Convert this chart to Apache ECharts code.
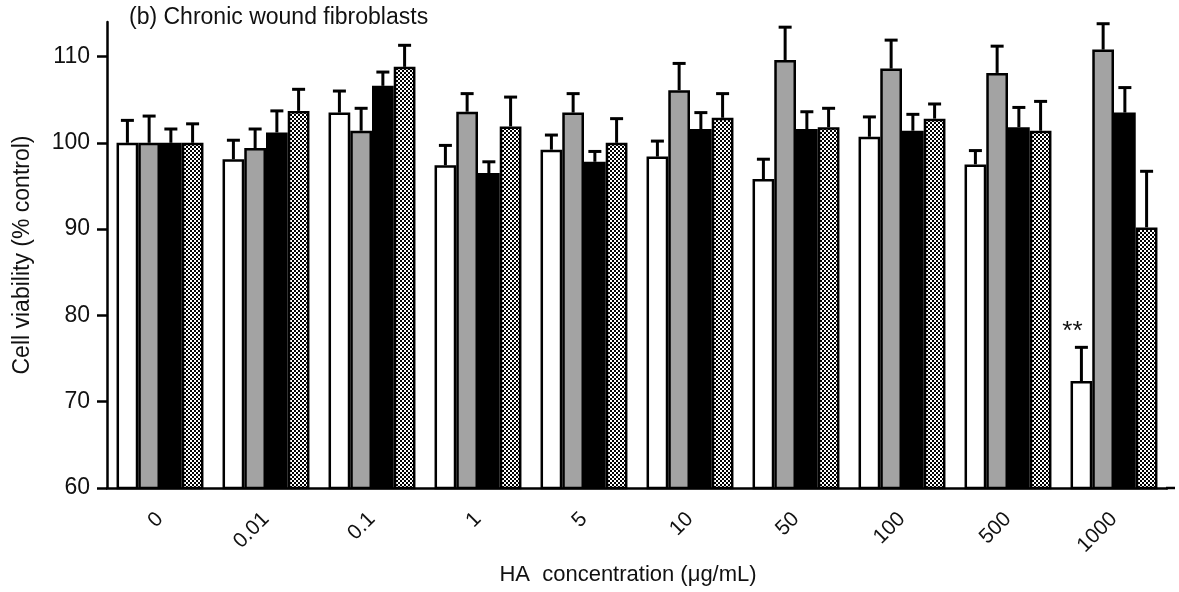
<!DOCTYPE html>
<html>
<head>
<meta charset="utf-8">
<script src="https://cdn.jsdelivr.net/npm/echarts@6/dist/echarts.min.js"></script>
<style>
html,body{margin:0;padding:0;background:#fff;}
#chart{width:1179px;height:592px;}
</style>
</head>
<body>
<div id="chart"></div>
<script>
const categories = ['0', '0.01', '0.1', '1', '5', '10', '50', '100', '500', '1000'];
const yTicks = [60, 70, 80, 90, 100, 110];

const whiteMean = [100, 98.1, 103.5, 97.4, 99.2, 98.4, 95.8, 100.7, 97.5, 72.4];
const whiteSD   = [2.6, 2.2, 2.5, 2.3, 1.7, 1.8, 2.3, 2.3, 1.6, 3.9];
const grayMean  = [100, 99.4, 101.4, 103.6, 103.5, 106.1, 109.6, 108.6, 108.1, 110.8];
const graySD    = [3.1, 2.2, 2.6, 2.1, 2.2, 3.1, 3.8, 3.3, 3.1, 3.0];
const blackMean = [100, 101.2, 106.6, 96.5, 97.8, 101.6, 101.6, 101.4, 101.8, 103.5];
const blackSD   = [1.6, 2.5, 1.6, 1.3, 1.2, 1.9, 2.0, 1.9, 2.3, 2.9];
const checkMean = [100, 103.7, 108.8, 101.9, 100.0, 102.9, 101.8, 102.8, 101.4, 90.2];
const checkSD   = [2.2, 2.5, 2.5, 3.4, 2.8, 2.8, 2.2, 1.7, 3.4, 6.5];
const significance = ['', '', '', '', '', '', '', '', '', '**']; // on white series

const FONT = '"Liberation Sans", Arial, Helvetica, sans-serif';
const CAT_GAP = 0.18;

// checkerboard pattern
const pat = document.createElement('canvas');
pat.width = 4; pat.height = 4;
const pctx = pat.getContext('2d');
pctx.fillStyle = '#fff'; pctx.fillRect(0, 0, 4, 4);
pctx.fillStyle = '#000'; pctx.fillRect(0, 0, 2, 2); pctx.fillRect(2, 2, 2, 2);

const groups = [
  {name: 'Group 1', mean: whiteMean, sd: whiteSD, color: '#ffffff'},
  {name: 'Group 2', mean: grayMean, sd: graySD, color: '#a3a3a3'},
  {name: 'Group 3', mean: blackMean, sd: blackSD, color: '#000000'},
  {name: 'Group 4', mean: checkMean, sd: checkSD, color: {image: pat, repeat: 'repeat'}}
];

const series = [];
groups.forEach((g, k) => {
  series.push({
    name: g.name,
    type: 'bar',
    barGap: '0%',
    barCategoryGap: (CAT_GAP * 100) + '%',
    itemStyle: {color: g.color, borderColor: '#000', borderWidth: 2.5},
    emphasis: {disabled: true},
    data: g.mean.map((v, i) => {
      if (k === 0 && significance[i]) {
        return {value: v, label: {show: true, position: 'top', distance: 36, offset: [-9, 0],
          formatter: significance[i], fontSize: 26, color: '#111', fontFamily: FONT}};
      }
      return v;
    }),
    z: 2
  });
});
groups.forEach((g, k) => {
  series.push({
    name: g.name + ' SD',
    type: 'custom',
    z: 3,
    silent: true,
    data: g.mean.map((v, i) => [i, v, g.sd[i]]),
    renderItem: function (params, api) {
      const i = api.value(0), m = api.value(1), sd = api.value(2);
      const base = api.coord([i, m]);
      const top = api.coord([i, m + sd]);
      const bandW = api.size([1, 0])[0];
      const barW = bandW * (1 - CAT_GAP) / 4;
      const x = base[0] + (k - 1.5) * barW;
      return {
        type: 'group',
        children: [
          {type: 'line', shape: {x1: x, y1: base[1], x2: x, y2: top[1]}, style: {stroke: '#000', lineWidth: 3}},
          {type: 'line', shape: {x1: x - 6.5, y1: top[1], x2: x + 6.5, y2: top[1]}, style: {stroke: '#000', lineWidth: 3}}
        ]
      };
    }
  });
});

const chart = echarts.init(document.getElementById('chart'));
chart.setOption({
  animation: false,
  backgroundColor: '#fff',
  textStyle: {fontFamily: FONT},
  grid: {left: 107, right: 12, top: 22, bottom: 104, containLabel: false},
  graphic: [
    {type: 'text', left: 129, top: 6,
      style: {text: '(b) Chronic wound fibroblasts', font: '23px ' + FONT, fill: '#111'}},
    {type: 'line', shape: {x1: 1166, y1: 488, x2: 1175, y2: 488}, style: {stroke: '#000', lineWidth: 2.5}}
  ],
  xAxis: {
    type: 'category',
    data: categories,
    name: 'HA  concentration (\u03bcg/mL)',
    nameLocation: 'middle',
    nameGap: 76,
    nameTextStyle: {fontSize: 22, color: '#111', fontFamily: FONT, padding: [0, 18, 0, 0]},
    axisLine: {lineStyle: {color: '#000', width: 2.5}},
    axisTick: {alignWithLabel: true, length: 10, lineStyle: {color: '#000', width: 2.5}},
    axisLabel: {rotate: 45, fontSize: 21, color: '#111', margin: 28, fontFamily: FONT, interval: 0}
  },
  yAxis: {
    type: 'value',
    min: 60, max: 114,
    name: 'Cell viability (% control)',
    nameLocation: 'middle',
    nameGap: 73,
    nameRotate: 90,
    nameTextStyle: {fontSize: 23, color: '#111', fontFamily: FONT},
    splitLine: {show: false},
    axisLine: {show: true, lineStyle: {color: '#000', width: 2.5}},
    axisTick: {show: true, length: 10, customValues: yTicks, lineStyle: {color: '#000', width: 2.5}},
    axisLabel: {fontSize: 23, color: '#111', margin: 17, fontFamily: FONT, customValues: yTicks}
  },
  series: series
});
</script>
</body>
</html>
